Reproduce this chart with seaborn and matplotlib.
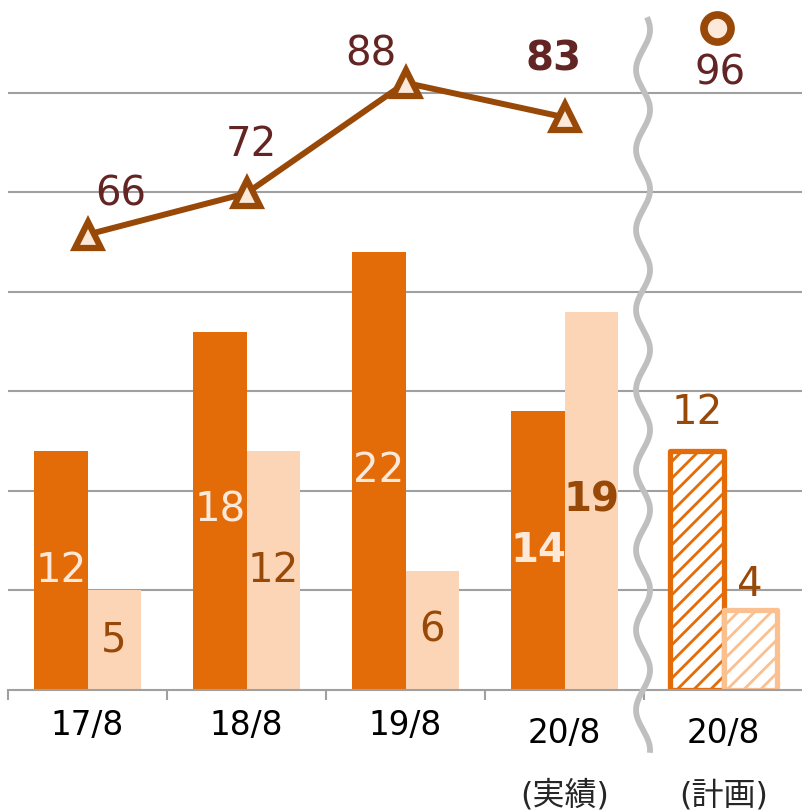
import numpy as np
import pandas as pd
import matplotlib
matplotlib.use("Agg")
import matplotlib.pyplot as plt
import matplotlib.transforms as mtransforms
import seaborn as sns

# ---- data ----
periods = ["17/8", "18/8", "19/8", "20/8実績", "20/8計画"]
tick_labels = ["17/8", "18/8", "19/8", "20/8", "20/8"]
sub_labels = ["", "", "", "(実績)", "(計画)"]
series_a = [12, 18, 22, 14, 12]
series_b = [5, 12, 6, 19, 4]
line_vals = [66, 72, 88, 83]
plan_line = 96

DARK = "#E36C09"
LIGHT = "#FBD5B5"
LIGHT_EDGE = "#FAC090"
BROWN = "#984807"
WINE = "#632523"
PALE = "#FDE9D9"
GRID = "#A0A0A0"

sns.set_theme(style="white")
plt.rcParams["font.family"] = ["DejaVu Sans", "Noto Sans CJK JP"]
plt.rcParams["hatch.linewidth"] = 2.0

df = pd.DataFrame({
    "period": periods * 2,
    "series": ["a"] * len(periods) + ["b"] * len(periods),
    "value": series_a + series_b,
})

fig = plt.figure(figsize=(8.03, 8.10), dpi=100)
ax = fig.add_axes([8 / 803, 120 / 810, 795 / 803, 690 / 810])

sns.barplot(data=df, x="period", y="value", hue="series", palette=[DARK, LIGHT],
            width=0.667, saturation=1, ax=ax, legend=False, linewidth=0, zorder=2)
ax.set_xlim(-0.5, 4.5)
ax.set_ylim(0, 34.67)
ax.set_yticks(np.arange(5, 31, 5))
ax.set_yticklabels([])
ax.yaxis.grid(True, color=GRID, linewidth=1.5)
ax.set_axisbelow(True)
ax.set_xlabel("")
ax.set_ylabel("")
for s in ["top", "left", "right"]:
    ax.spines[s].set_visible(False)
ax.spines["bottom"].set_color(GRID)
ax.spines["bottom"].set_linewidth(1.5)
ax.tick_params(axis="y", length=0)

# x ticks: labels at centres, small marks at group borders
ax.set_xticks(range(len(periods)))
ax.set_xticklabels(tick_labels, fontsize=23.5, color="black")
ax.set_xticks(np.arange(-0.5, 3.6, 1), minor=True)
ax.tick_params(axis="x", which="major", length=0, pad=14)
ax.tick_params(axis="x", which="minor", bottom=True, length=7, width=1.5, color=GRID)
for lab in ax.get_xticklabels()[3:]:
    lab.set_transform(lab.get_transform() + mtransforms.ScaledTranslation(0, -0.08, fig.dpi_scale_trans))
xtrans = mtransforms.blended_transform_factory(ax.transData, ax.transAxes)
for i, s in enumerate(sub_labels):
    if s:
        ax.text(i, -0.153, s, transform=xtrans, ha="center", va="center", fontsize=23)

# planned bars: hatched outlines
bars_a, bars_b = ax.containers[0], ax.containers[1]
for bar, col in [(bars_a[4], DARK), (bars_b[4], LIGHT_EDGE)]:
    bar.set_facecolor("white")
    bar.set_edgecolor(col)
    bar.set_linewidth(3.8)
    bar.set_hatch("//")
    bar.set_joinstyle("round")

# bar value labels
for i in range(4):
    a, b = series_a[i], series_b[i]
    bold = "bold" if i == 3 else "normal"
    ax.text(i - 0.1667, a / 2, str(a), ha="center", va="center", fontsize=29,
            color=PALE, fontweight=bold, zorder=5)
    ax.text(i + 0.1667, b / 2, str(b), ha="center", va="center", fontsize=29,
            color=BROWN, fontweight=bold, zorder=5)
ax.annotate(str(series_a[4]), (4 - 0.1667, series_a[4]), xytext=(0, 18),
            textcoords="offset pixels", ha="center", va="bottom", fontsize=29, color=BROWN)
ax.annotate(str(series_b[4]), (4 + 0.1667, series_b[4]), xytext=(0, 5),
            textcoords="offset pixels", ha="center", va="bottom", fontsize=29, color=BROWN)

# line on a second scale
ax2 = ax.twinx()
x_line = np.arange(len(line_vals))
sns.lineplot(x=x_line, y=line_vals, ax=ax2, color=BROWN, linewidth=4.3,
             marker="^", markersize=19, markerfacecolor=PALE, markeredgecolor=BROWN,
             markeredgewidth=4.5, zorder=4)
sns.scatterplot(x=[4 - 0.04], y=[plan_line], ax=ax2, s=380, color=PALE,
                edgecolor=BROWN, linewidth=5.5, zorder=4)
ax2.set_ylim(0, 100)
ax2.set_xlim(-0.5, 4.5)
ax2.set_yticks([])
ax2.set_ylabel("")
for s in ax2.spines.values():
    s.set_visible(False)

offsets = [(33, 40), (5, 48), (-35, 28), (-11, 58)]
for i, v in enumerate(line_vals):
    ax2.annotate(str(v), (i, v), xytext=offsets[i], textcoords="offset pixels",
                 ha="center", va="center", fontsize=29, color=WINE,
                 fontweight="bold" if i == 3 else "normal")
ax2.annotate(str(plan_line), (4 - 0.04, plan_line), xytext=(3, -46),
             textcoords="offset pixels", ha="center", va="center", fontsize=29, color=WINE)

# wavy break line between actual and plan
t = np.linspace(-0.091, 0.975, 400)
wave_x = 3.494 + 0.044 * np.sin(2 * np.pi * t / 0.116)
ax2.plot(wave_x, t, color="#BFBFBF", linewidth=4.2, transform=xtrans,
         clip_on=False, zorder=6, solid_capstyle="butt")

fig.savefig("out.png", dpi=100)
